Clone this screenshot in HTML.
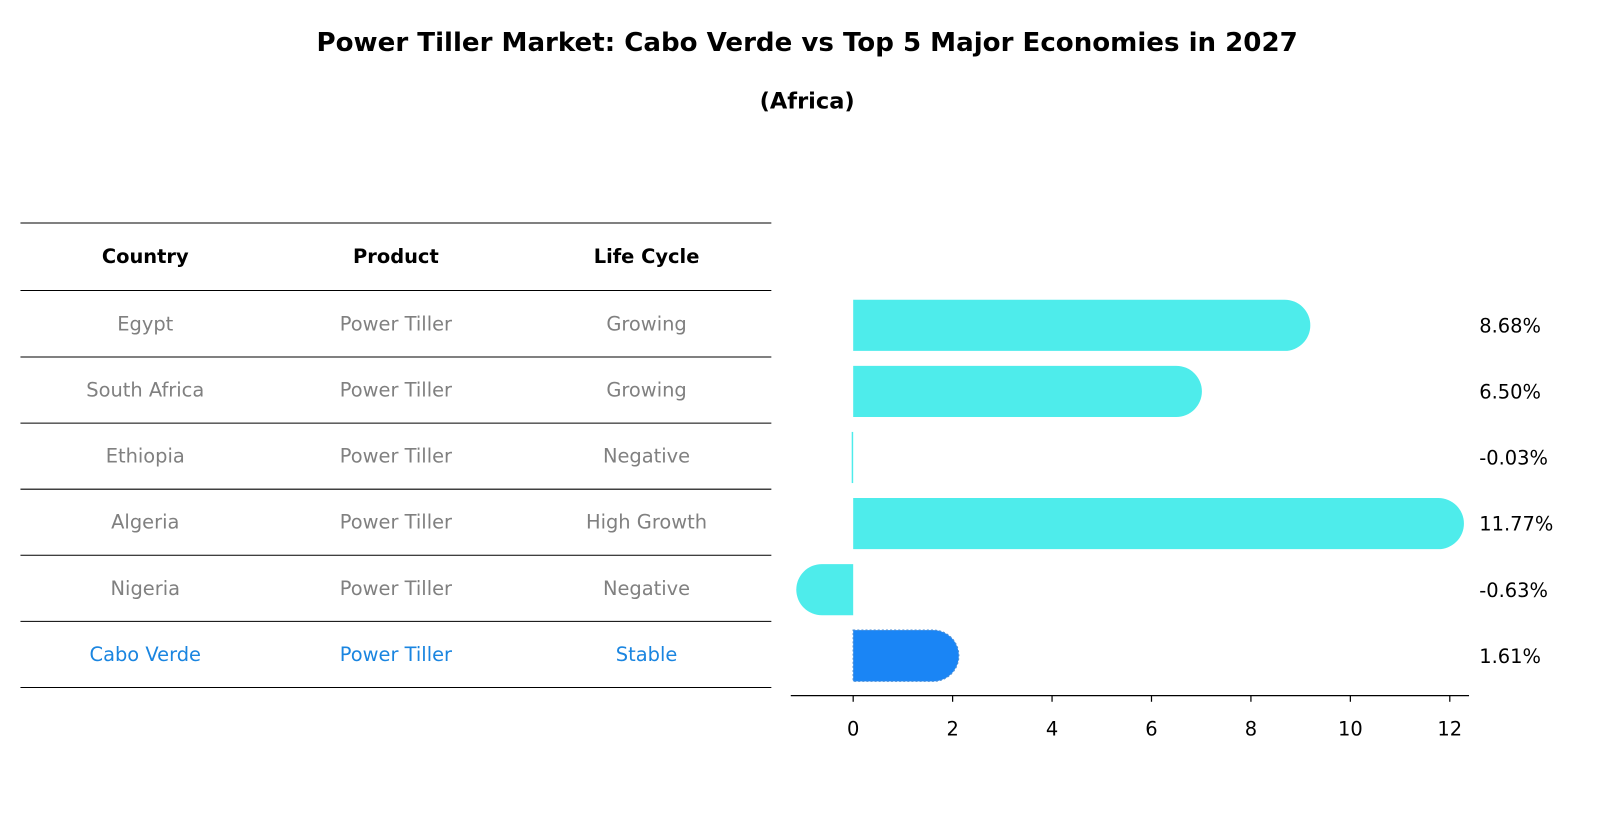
<!DOCTYPE html>
<html><head><meta charset="utf-8"><style>
body{margin:0;background:#fff;font-family:"Liberation Sans","DejaVu Sans",sans-serif}
svg text{font-family:"DejaVu Sans","Liberation Sans",sans-serif}
</style></head><body>
<svg id="c" width="1604" height="823" xmlns="http://www.w3.org/2000/svg">
<g transform="scale(1.023)">
<text x="789" y="50" text-anchor="middle" font-size="25.5" font-weight="bold">Power Tiller Market: Cabo Verde vs Top 5 Major Economies in 2027</text>
<text x="789" y="106" text-anchor="middle" font-size="22" font-weight="bold">(Africa)</text>
<g id="table"></g>
<g id="bars"></g>
</g>
</svg>
<script>
const countries=["Egypt","South Africa","Ethiopia","Algeria","Nigeria","Cabo Verde"];
const products=["Power Tiller","Power Tiller","Power Tiller","Power Tiller","Power Tiller","Power Tiller"];
const lifecycles=["Growing","Growing","Negative","High Growth","Negative","Stable"];
const values=[8.68,6.50,-0.03,11.77,-0.63,1.61];
const ticks=[0,2,4,6,8,10,12];
const NS="http://www.w3.org/2000/svg";
const FS=19;
function mk(p,t,a){const e=document.createElementNS(NS,t);for(const k in a)e.setAttribute(k,a[k]);p.appendChild(e);return e;}
const tbl=document.getElementById('table'),bars=document.getElementById('bars');
const rowY=i=>316+i*64.6;
const X=v=>834+v*48.6;
const cols=[142,387,632];
[218,284].forEach(y=>{const l=mk(tbl,'line',{x1:20,x2:754,y1:y,y2:y,stroke:'#000','stroke-width':1});

});
["Country","Product","Life Cycle"].forEach((h,j)=>{const t=mk(tbl,'text',{x:cols[j],y:257,'text-anchor':'middle','font-size':FS,'font-weight':'bold'});t.textContent=h;

});
countries.forEach((c,i)=>{
 const col=i===countries.length-1?'#1a85e0':'#808080';
 [c,products[i],lifecycles[i]].forEach((s,j)=>{const t=mk(tbl,'text',{x:cols[j],y:rowY(i)+7,'text-anchor':'middle','font-size':FS,fill:col});t.textContent=s;
 
 });
 const l=mk(tbl,'line',{x1:20,x2:754,y1:rowY(i)+33,y2:rowY(i)+33,stroke:'#000','stroke-width':1});
 
 
});
const h=50,r=25;
values.forEach((v,i)=>{
 const cy=rowY(i)+2,y0=cy-h/2,x0=X(0),x1=X(v);
 const last=i===values.length-1;
 const fill=last?'#1a85f5':'#4eeceb';
 let d;
 if(Math.abs(x1-x0)<4){const w=Math.max(1,Math.abs(x1-x0));d=`M${Math.min(x0,x1)} ${y0}h${w}v${h}h-${w}z`;}
 else if(v>0){d=`M${x0} ${y0}H${x1}a${r} ${r} 0 0 1 0 ${h}H${x0}Z`;}
 else{d=`M${x0} ${y0}H${x1}a${r} ${r} 0 0 0 0 ${h}H${x0}Z`;}
 const p=mk(bars,'path',{d:d,fill:fill});
 if(last){p.setAttribute('stroke','#4a8fd8');p.setAttribute('stroke-dasharray','2 2');p.setAttribute('stroke-width','1.2');}
 
 
 const t=mk(bars,'text',{x:1446,y:cy+7,'font-size':FS});t.textContent=v.toFixed(2)+'%';
 
 
});
const ax=mk(bars,'line',{x1:773,x2:1436,y1:680,y2:680,stroke:'#000','stroke-width':1.3});


ticks.forEach(tv=>{const l=mk(bars,'line',{x1:X(tv),x2:X(tv),y1:680,y2:686,stroke:'#000','stroke-width':1.2});


const t=mk(bars,'text',{x:X(tv),y:719,'text-anchor':'middle','font-size':FS});t.textContent=tv;

});
</script>
</body></html>
